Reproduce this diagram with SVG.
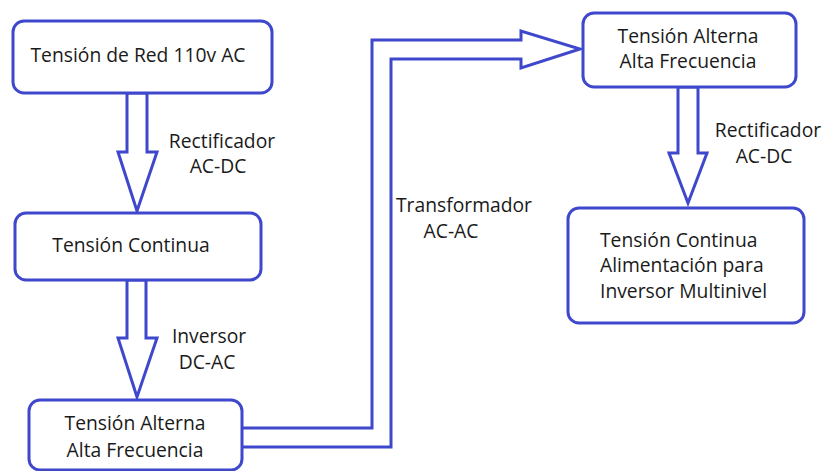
<svg xmlns="http://www.w3.org/2000/svg" width="824" height="471" viewBox="0 0 824 471">
<style>
.box{fill:#fff;stroke:#3f48cc;stroke-width:3}
.arr{fill:#fff;stroke:#3f48cc;stroke-width:3;stroke-linejoin:miter}
text{font-family:"Open Sans","Liberation Sans",sans-serif;font-size:19.3px;fill:#1a1a1a}
.c{text-anchor:middle}
</style>
<rect width="824" height="471" fill="#fff"/>
<g id="connectors">
<polygon class="arr" points="127,93 147,93 147,152 157,152 137,211 118,152 127,152"/>
<polygon class="arr" points="127,280 146,280 146,338 157,338 137,397 118,338 127,338"/>
<polygon class="arr" points="678,87 698,87 698,153 707,153 688,203 669,153 678,153"/>
<polygon class="arr" points="241,428 372,428 372,40 521,40 521,31 580,49 521,68 521,59 391,59 391,447 241,447"/>
<text x="222" y="148" class="c">Rectificador</text>
<text x="218" y="173" class="c">AC-DC</text>
<text x="209" y="343" class="c">Inversor</text>
<text x="207" y="369" class="c">DC-AC</text>
<text x="464" y="212" class="c">Transformador</text>
<text x="451" y="238" class="c">AC-AC</text>
<text x="768" y="137" class="c">Rectificador</text>
<text x="764" y="163" class="c">AC-DC</text>
</g>
<g id="n1">
<rect class="box" x="13" y="21" width="259" height="72" rx="11"/>
<text x="138" y="62" class="c">Tensión de Red 110v AC</text>
</g>
<g id="n2">
<rect class="box" x="15" y="213" width="246" height="67" rx="11"/>
<text x="131" y="252" class="c">Tensión Continua</text>
</g>
<g id="n3">
<rect class="box" x="29" y="400" width="213" height="70" rx="11"/>
<text x="135" y="430" class="c">Tensión Alterna</text>
<text x="135" y="457" class="c">Alta Frecuencia</text>
</g>
<g id="n4">
<rect class="box" x="583" y="13" width="213" height="74" rx="11"/>
<text x="688" y="43" class="c">Tensión Alterna</text>
<text x="688" y="68" class="c">Alta Frecuencia</text>
</g>
<g id="n5">
<rect class="box" x="568" y="208" width="236" height="115" rx="11"/>
<text x="600" y="247">Tensión Continua</text>
<text x="600" y="272">Alimentación para</text>
<text x="600" y="298">Inversor Multinivel</text>
</g>
</svg>
